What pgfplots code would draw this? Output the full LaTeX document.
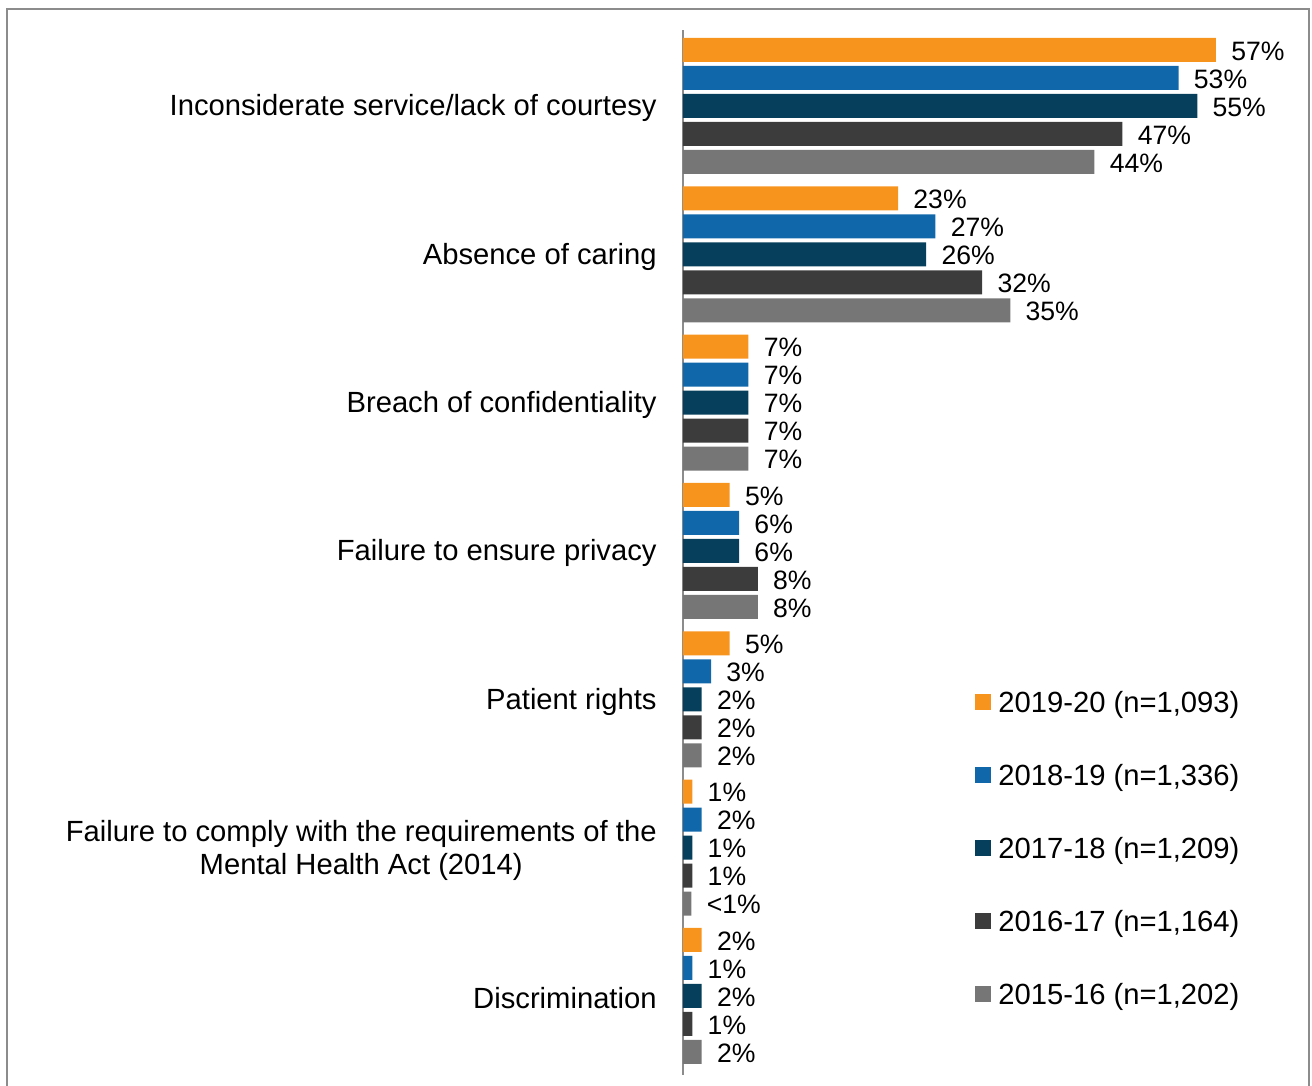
\documentclass[border=0pt]{standalone}
\usepackage{pgfplots}
\pgfplotsset{compat=1.18}
\usepackage{fontspec}
\setmainfont{Liberation Sans}
\definecolor{c1}{HTML}{F7941D}
\definecolor{c2}{HTML}{1068AB}
\definecolor{c3}{HTML}{063F5B}
\definecolor{c4}{HTML}{3C3C3C}
\definecolor{c5}{HTML}{767676}
\definecolor{frame}{HTML}{8C8C8C}
\begin{document}
\begin{tikzpicture}
\useasboundingbox (0,0) rectangle (656pt,-543pt);
\draw[frame, line width=0.9pt] (3.5pt,-543pt) -- (3.5pt,-4.5pt) -- (654.5pt,-4.5pt) -- (654.5pt,-543pt);
\begin{axis}[
  at={(341.5pt,-15pt)}, anchor=north west,
  scale only axis, width=280.5pt, height=522.5pt,
  xmin=0, xmax=60, ymin=-0.512, ymax=6.533,
  y dir=reverse,
  axis x line=none, axis y line=left,
  axis line style={-, draw=frame, line width=0.9pt},
  xtick=\empty,
  ytick={0,1,2,3,4,5,6},
  yticklabels={Inconsiderate service/lack of courtesy, Absence of caring, Breach of confidentiality, Failure to ensure privacy, Patient rights, {Failure to comply with the requirements of the\\Mental Health Act (2014)}, Discrimination},
  major tick length=0pt,
  yticklabel style={font=\fontsize{14.6}{16.5}\selectfont, align=center, inner sep=0pt, xshift=-13pt, yshift=-1.2pt},
  xbar, bar width=0.162,
  point meta=explicit symbolic,
  nodes near coords,
  every node near coord/.append style={font=\fontsize{13.3}{15}\selectfont, anchor=west, inner sep=0pt, xshift=7.5pt, yshift=-0.5pt},
  legend image code/.code={\fill[#1] (0pt,-2.5pt) rectangle (8pt,5.5pt);},
  legend style={draw=none, fill=none, at={(axis cs:31.23,3.948)}, anchor=north west, inner sep=0pt,
    font=\fontsize{14.6}{16}\selectfont, row sep=23pt, column sep=3.5pt,
    nodes={inner sep=0pt, text height=10.5pt, text depth=3pt}},
  legend cell align=left,
]
\addplot[fill=c1, draw=none, bar shift=-0.3776] coordinates {(57,0) [57\%] (23,1) [23\%] (7,2) [7\%] (5,3) [5\%] (5,4) [5\%] (1,5) [1\%] (2,6) [2\%]};
\addplot[fill=c2, draw=none, bar shift=-0.1888] coordinates {(53,0) [53\%] (27,1) [27\%] (7,2) [7\%] (6,3) [6\%] (3,4) [3\%] (2,5) [2\%] (1,6) [1\%]};
\addplot[fill=c3, draw=none, bar shift=0] coordinates {(55,0) [55\%] (26,1) [26\%] (7,2) [7\%] (6,3) [6\%] (2,4) [2\%] (1,5) [1\%] (2,6) [2\%]};
\addplot[fill=c4, draw=none, bar shift=0.1888] coordinates {(47,0) [47\%] (32,1) [32\%] (7,2) [7\%] (8,3) [8\%] (2,4) [2\%] (1,5) [1\%] (1,6) [1\%]};
\addplot[fill=c5, draw=none, bar shift=0.3776] coordinates {(44,0) [44\%] (35,1) [35\%] (7,2) [7\%] (8,3) [8\%] (2,4) [2\%] (0.9,5) [<1\%] (2,6) [2\%]};
\legend{{2019-20 (n=1,093)}, {2018-19 (n=1,336)}, {2017-18 (n=1,209)}, {2016-17 (n=1,164)}, {2015-16 (n=1,202)}}
\end{axis}
\end{tikzpicture}
\end{document}
